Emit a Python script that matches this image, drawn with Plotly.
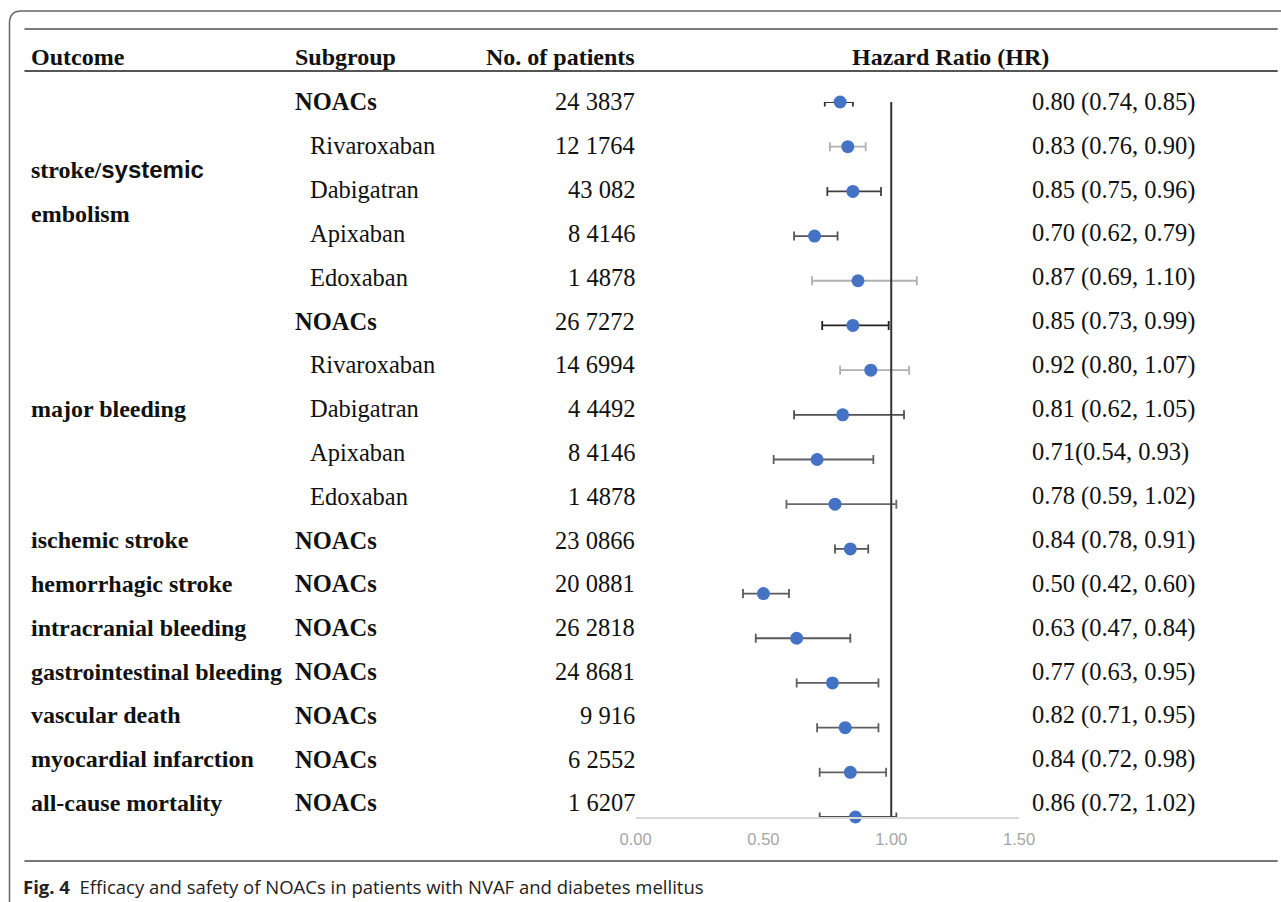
import plotly.graph_objects as go

# ---------------- data ----------------
subgroups = ["NOACs", "Rivaroxaban", "Dabigatran", "Apixaban", "Edoxaban",
             "NOACs", "Rivaroxaban", "Dabigatran", "Apixaban", "Edoxaban",
             "NOACs", "NOACs", "NOACs", "NOACs", "NOACs", "NOACs", "NOACs"]
patients = ["24 3837", "12 1764", "43 082", "8 4146", "1 4878",
            "26 7272", "14 6994", "4 4492", "8 4146", "1 4878",
            "23 0866", "20 0881", "26 2818", "24 8681", "9 916", "6 2552", "1 6207"]
hr = [0.80, 0.83, 0.85, 0.70, 0.87, 0.85, 0.92, 0.81, 0.71, 0.78,
      0.84, 0.50, 0.63, 0.77, 0.82, 0.84, 0.86]
ci_low = [0.74, 0.76, 0.75, 0.62, 0.69, 0.73, 0.80, 0.62, 0.54, 0.59,
          0.78, 0.42, 0.47, 0.63, 0.71, 0.72, 0.72]
ci_high = [0.85, 0.90, 0.96, 0.79, 1.10, 0.99, 1.07, 1.05, 0.93, 1.02,
           0.91, 0.60, 0.84, 0.95, 0.95, 0.98, 1.02]
hr_labels = ["0.80 (0.74, 0.85)", "0.83 (0.76, 0.90)", "0.85 (0.75, 0.96)",
             "0.70 (0.62, 0.79)", "0.87 (0.69, 1.10)", "0.85 (0.73, 0.99)",
             "0.92 (0.80, 1.07)", "0.81 (0.62, 1.05)", "0.71(0.54, 0.93)",
             "0.78 (0.59, 1.02)", "0.84 (0.78, 0.91)", "0.50 (0.42, 0.60)",
             "0.63 (0.47, 0.84)", "0.77 (0.63, 0.95)", "0.82 (0.71, 0.95)",
             "0.84 (0.72, 0.98)", "0.86 (0.72, 1.02)"]
# outcome labels: (text, row position in table)
outcomes = [("stroke/<span style='font-family:Liberation Sans;font-size:24px'>systemic</span>", 1.55),
            ("embolism", 2.55),
            ("major bleeding", 7.0),
            ("ischemic stroke", 10), ("hemorrhagic stroke", 11),
            ("intracranial bleeding", 12), ("gastrointestinal bleeding", 13),
            ("vascular death", 14), ("myocardial infarction", 15),
            ("all-cause mortality", 16)]
x_ticks = [0.0, 0.5, 1.0, 1.5]

# ---------------- style ----------------
err_colors = ["#333333", "#b0b0b0", "#404040", "#555555", "#b0b0b0",
              "#222222", "#b0b0b0", "#505050", "#606060", "#6a6a6a",
              "#555555", "#5a5a5a", "#5a5a5a", "#606060", "#606060",
              "#606060", "#505050"]
W, H = 1281, 902
SERIF = "Liberation Serif"
FS = 24.5
FSB = 24

# the page renders the figure about 1251 px wide, starting ~14.5 px in
OFF, PW = 14.5, 1250.8


def px(x):
    return (x - OFF) / PW


def py(y):
    return 1 - y / H


rows = list(range(len(hr)))
fig = go.Figure()

for i in rows:
    fig.add_trace(go.Scatter(
        x=[hr[i]], y=[i], mode="markers",
        marker=dict(color="#4472C4", size=13),
        error_x=dict(type="data", symmetric=False,
                     array=[ci_high[i] - hr[i]], arrayminus=[hr[i] - ci_low[i]],
                     color=err_colors[i], thickness=1.8, width=4.5),
        cliponaxis=False, showlegend=False, hoverinfo="skip"))

# reference line at HR = 1
fig.add_shape(type="line", xref="x", yref="y", x0=1.0, x1=1.0, y0=-0.05, y1=16,
              line=dict(color="#333333", width=2))

ann = []
for i in rows:
    bold = subgroups[i] == "NOACs"
    ann.append(dict(x=px(292 if bold else 307), xref="paper", y=i, yref="y2",
                    text=f"<b>{subgroups[i]}</b>" if bold else subgroups[i],
                    xanchor="left", yanchor="middle", showarrow=False,
                    font=dict(family=SERIF, size=FS, color="#111")))
    ann.append(dict(x=px(636), xref="paper", y=i, yref="y2", text=patients[i],
                    xanchor="right", yanchor="middle", showarrow=False,
                    font=dict(family=SERIF, size=FS, color="#111")))
    ann.append(dict(x=px(1030), xref="paper", y=i, yref="y2", text=hr_labels[i],
                    xanchor="left", yanchor="middle", showarrow=False,
                    font=dict(family=SERIF, size=FS, color="#111")))
for txt, r in outcomes:
    ann.append(dict(x=px(28), xref="paper", y=r, yref="y2", text=f"<b>{txt}</b>",
                    xanchor="left", yanchor="middle", showarrow=False,
                    font=dict(family=SERIF, size=FSB, color="#111")))

for txt, x, anchor in [("Outcome", 28, "left"), ("Subgroup", 292, "left"),
                       ("No. of patients", 636, "right"), ("Hazard Ratio (HR)", 950, "center")]:
    ann.append(dict(x=px(x), xref="paper", y=py(57), yref="paper", text=f"<b>{txt}</b>",
                    xanchor=anchor, yanchor="middle", showarrow=False,
                    font=dict(family=SERIF, size=FSB, color="#111")))

ann.append(dict(x=px(20), xref="paper", y=py(886), yref="paper",
                text="<b>Fig. 4</b>  Efficacy and safety of NOACs in patients with NVAF and diabetes mellitus",
                xanchor="left", yanchor="middle", showarrow=False,
                font=dict(family="Open Sans", size=18.5, color="#222")))

shapes = [
    dict(type="path", xref="paper", yref="paper",
         path=f"M {px(8)},{py(905)} L {px(8)},{py(23)} Q {px(8)},{py(11)} {px(20)},{py(11)} L {px(1300)},{py(11)}",
         line=dict(color="#666666", width=1.5)),
    dict(type="line", xref="paper", yref="paper", x0=px(23), x1=px(1278), y0=py(29), y1=py(29),
         line=dict(color="#7a7a7a", width=1.8)),
    dict(type="line", xref="paper", yref="paper", x0=px(23), x1=px(1278), y0=py(71), y1=py(71),
         line=dict(color="#555555", width=2)),
    dict(type="line", xref="paper", yref="paper", x0=px(23), x1=px(1278), y0=py(861), y1=py(861),
         line=dict(color="#777777", width=1.8)),
]
for s in shapes:
    fig.add_shape(**s)

fig.update_layout(
    width=W, height=H, autosize=False, margin=dict(l=0, r=0, t=0, b=0),
    paper_bgcolor="white", plot_bgcolor="white",
    annotations=ann,
    xaxis=dict(domain=[px(635), px(1019)], range=[0, 1.5], tickvals=x_ticks,
               tickformat=".2f", showgrid=False, zeroline=False,
               showline=True, linecolor="#d9d9d9", linewidth=1.5,
               ticks="outside", ticklen=6, tickcolor="rgba(0,0,0,0)",
               tickfont=dict(family="Liberation Sans", size=16.5, color="#a6a6a6")),
    yaxis=dict(domain=[py(817), py(102)], range=[16, 0], visible=False),
    yaxis2=dict(domain=[py(817), py(102)], range=[16.32, 0], overlaying="y",
                visible=False),
)

fig.write_html("out.html")
